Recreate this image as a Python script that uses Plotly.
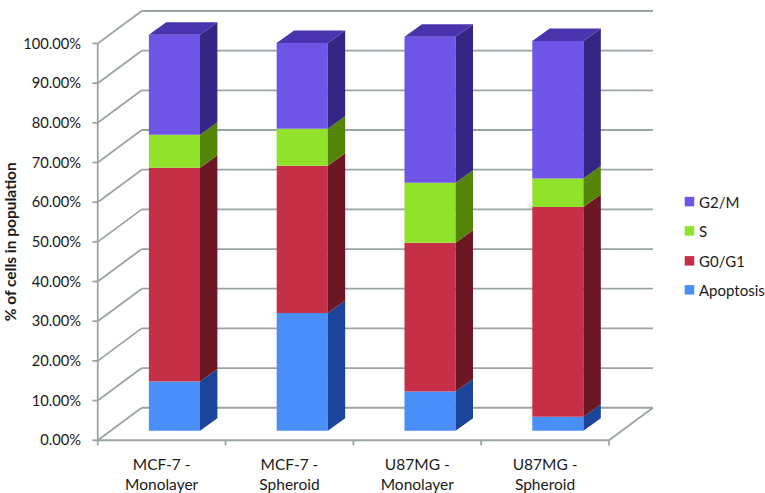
import plotly.graph_objects as go

# Data (% of cells)
categories = ['MCF-7 -<br>Monolayer', 'MCF-7 -<br>Spheroid', 'U87MG -<br>Monolayer', 'U87MG -<br>Spheroid']
apoptosis = [12.4, 29.7, 9.9, 3.5]
g0_g1 = [53.9, 37.1, 37.5, 52.9]
s_phase = [8.3, 9.3, 15.1, 7.2]
g2_m = [25.2, 21.6, 36.8, 34.6]
y_ticks = [0, 10, 20, 30, 40, 50, 60, 70, 80, 90, 100]
y_labels = ['0.00%', '10.00%', '20.00%', '30.00%', '40.00%', '50.00%',
            '60.00%', '70.00%', '80.00%', '90.00%', '100.00%']

# name, values, front colour, side colour
series = [('Apoptosis', apoptosis, '#4A8EFA', '#1C4599'),
          ('G0/G1', g0_g1, '#C62F48', '#6E1724'),
          ('S', s_phase, '#91E22B', '#548508'),
          ('G2/M', g2_m, '#6E55E8', '#362683')]
top_color = '#4A34AE'

# Fake 3D geometry, in axis units
wall_dx, wall_dy = 0.344, 8.19
bar_dx, bar_dy = 0.136, 3.15
bar_lift = 2.4
bar_shift = 0.1
bar_width = 0.4
grid_color = '#9AA5A3'

x_pos = list(range(len(categories)))
bar_x = [x + bar_shift for x in x_pos]

W, H = 765, 493
M_L, M_R, M_T, M_B = 92.25, 110, 9, 46.75

def px_x(px):
    return (px - M_L) / (W - M_L - M_R)

def px_y(py):
    return 1 - (py - M_T) / (H - M_T - M_B)

fig = go.Figure()

# Front faces
bases = [bar_lift] * len(categories)
for name, values, front, side in series:
    fig.add_trace(go.Bar(x=bar_x, y=values, base=bases, width=bar_width, name=name,
                         marker=dict(color=front, line_width=0),
                         showlegend=False, hoverinfo='skip'))
    # Side faces
    for cx, b, v in zip(bar_x, bases, values):
        r = cx + bar_width / 2
        fig.add_trace(go.Scatter(x=[r, r + bar_dx, r + bar_dx, r, r],
                                 y=[b, b + bar_dy, b + v + bar_dy, b + v, b],
                                 fill='toself', fillcolor=side, mode='lines', line_width=0,
                                 showlegend=False, hoverinfo='skip'))
    bases = [b + v for b, v in zip(bases, values)]

# Top faces
for cx, b in zip(bar_x, bases):
    l, r = cx - bar_width / 2, cx + bar_width / 2
    fig.add_trace(go.Scatter(x=[l, r, r + bar_dx, l + bar_dx, l],
                             y=[b, b, b + bar_dy, b + bar_dy, b],
                             fill='toself', fillcolor=top_color, mode='lines', line_width=0,
                             showlegend=False, hoverinfo='skip'))

# Walls, floor and tick marks
x0, x1 = -0.5, len(categories) - 0.5
def wall_line(xa, ya, xb, yb):
    fig.add_shape(type='line', x0=xa, y0=ya, x1=xb, y1=yb, layer='below',
                  line=dict(color=grid_color, width=1.8))

for t in y_ticks:
    wall_line(x0, t, x0 + wall_dx, t + wall_dy)
    wall_line(x0 + wall_dx, t + wall_dy, x1 + wall_dx, t + wall_dy)
    wall_line(x0 - 0.042, t, x0, t)
wall_line(x0, 0, x0, 100)
wall_line(x0, 0, x1, 0)
wall_line(x1, 0, x1 + wall_dx, wall_dy)
for i in range(len(categories) + 1):
    wall_line(x0 + i, 0, x0 + i, -1.3)

# Legend, G2/M on top, tight swatch-to-text gap
legend_y = [201.7, 231, 261, 290]
for (name, values, front, side), ly in zip(reversed(series), legend_y):
    fig.add_shape(type='rect', xref='paper', yref='paper', line_width=0, fillcolor=front,
                  x0=px_x(684.7), x1=px_x(694.2), y0=px_y(ly + 4.75), y1=px_y(ly - 4.75))
    fig.add_annotation(text=name, xref='paper', yref='paper', x=px_x(697.5), y=px_y(ly),
                       xanchor='left', yanchor='middle', showarrow=False, borderpad=0,
                       font=dict(size=15))

# Axis title sits below the axis centre in the reference
fig.add_annotation(text='<b>% of cells in population</b>', xref='paper', yref='paper',
                   x=px_x(10), y=px_y(241.7), textangle=-90, showarrow=False, borderpad=0,
                   xanchor='center', yanchor='middle', font=dict(size=15.5))

fig.update_layout(width=W, height=H,
                  margin=dict(l=M_L, r=M_R, t=M_T, b=M_B, autoexpand=False),
                  plot_bgcolor='white', paper_bgcolor='white',
                  barmode='overlay', showlegend=False,
                  font=dict(family='Lato', size=14.5, color='#1A1A1A'))
fig.update_xaxes(range=[-0.545, 3.86], tickmode='array', tickvals=x_pos, ticktext=categories,
                 showgrid=False, zeroline=False, showline=False, automargin=False,
                 ticks='outside', ticklen=4, tickcolor='rgba(0,0,0,0)', tickfont_size=15.5)
fig.update_yaxes(range=[-1.45, 108.69], tickmode='array', tickvals=y_ticks, ticktext=y_labels,
                 showgrid=False, zeroline=False, showline=False, automargin=False,
                 ticks='outside', ticklen=7, tickcolor='rgba(0,0,0,0)', tickfont_size=14.7)

# Drop the page's default body margin so the figure fills the window
fig.write_html("out.html", config=dict(displayModeBar=False),
               post_script="document.body.style.margin = '0';")
